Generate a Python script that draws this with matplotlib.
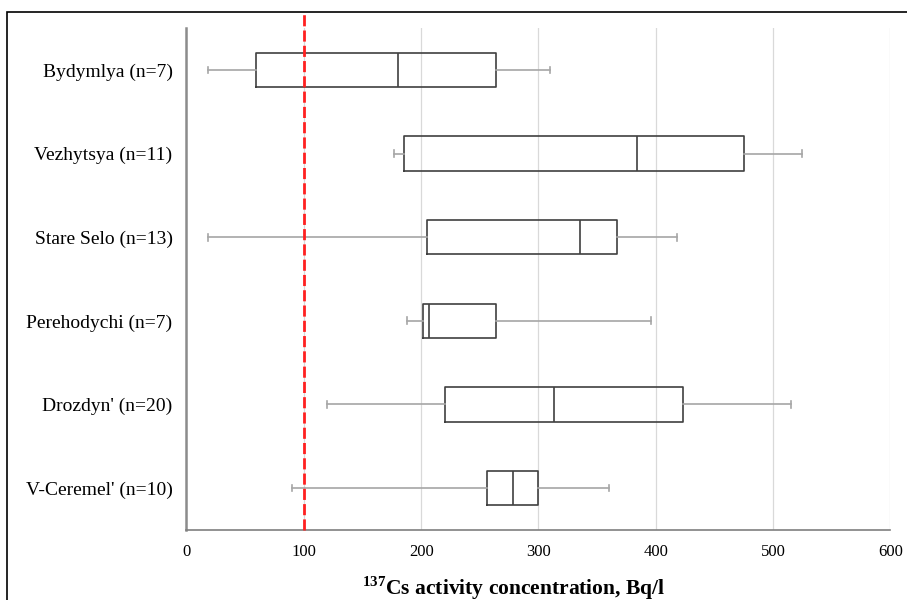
import matplotlib
matplotlib.use("Agg")
import matplotlib.pyplot as plt
from matplotlib.patches import Rectangle

# Sites and box statistics (Bq/l)
sites = ["Bydymlya (n=7)", "Vezhytsya (n=11)", "Stare Selo (n=13)",
         "Perehodychi (n=7)", "Drozdyn' (n=20)", "V-Ceremel' (n=10)"]
whisker_low = [18, 177, 18, 188, 120, 90]
q1 = [59, 185, 205, 202, 220, 256]
median = [180, 384, 335, 207, 313, 278]
q3 = [264, 475, 367, 264, 423, 300]
whisker_high = [310, 525, 418, 396, 515, 360]

limit_value = 100
x_ticks = [0, 100, 200, 300, 400, 500, 600]

plt.rcParams['font.family'] = ['Liberation Serif', 'DejaVu Serif']
plt.rcParams['mathtext.fontset'] = 'custom'
plt.rcParams['mathtext.rm'] = 'Liberation Serif'
plt.rcParams['mathtext.bf'] = 'Liberation Serif:bold'

fig = plt.figure(figsize=(9.07, 6.0), dpi=100)
ax = fig.add_axes([0.2056, 0.1167, 0.7762, 0.8366])

# build stats for bxp, top row first
stats = []
for i in range(len(sites)):
    stats.append({
        'label': sites[i],
        'whislo': whisker_low[i],
        'q1': q1[i],
        'med': median[i],
        'q3': q3[i],
        'whishi': whisker_high[i],
        'fliers': [],
    })
positions = list(range(len(sites), 0, -1))

ax.bxp(stats, positions=positions, vert=False, widths=0.41,
       showfliers=False, patch_artist=False, capwidths=0.08,
       boxprops=dict(color='#404040', linewidth=1.2),
       medianprops=dict(color='#404040', linewidth=1.2),
       whiskerprops=dict(color='#a6a6a6', linewidth=1.2),
       capprops=dict(color='#a6a6a6', linewidth=1.2))

# limit line runs up to the outer frame
ax.axvline(limit_value, ymin=0, ymax=1.032, clip_on=False,
           color='#ff2020', linestyle=(0, (4, 1.5)), linewidth=2, zorder=5)

ax.set_xlim(0, 600)
ax.set_ylim(0.5, len(sites) + 0.5)
ax.set_xticks(x_ticks)
ax.set_xticklabels([str(t) for t in x_ticks], fontsize=12)
ax.tick_params(axis='y', labelsize=14, length=0, pad=10)
ax.tick_params(axis='x', length=0, pad=10)
ax.xaxis.grid(True, color='#d9d9d9', linewidth=0.9)
ax.set_axisbelow(True)

for side in ['top', 'right']:
    ax.spines[side].set_visible(False)
ax.spines['left'].set_color('#8c8c8c')
ax.spines['left'].set_linewidth(1.8)
ax.spines['bottom'].set_color('#7f7f7f')
ax.spines['bottom'].set_linewidth(1.2)

ax.set_xlabel(r'$^{\mathbf{137}}$Cs activity concentration, Bq/l',
              fontsize=15.5, fontweight='bold')
ax.xaxis.set_label_coords(0.465, -0.088)

# outer frame of the figure
fig.patches.append(Rectangle((7 / 907, -0.05), 1.2, 1 - 12 / 600 + 0.05,
                             transform=fig.transFigure, fill=False,
                             edgecolor='black', linewidth=1.2))

fig.savefig('out.png', dpi=100)
